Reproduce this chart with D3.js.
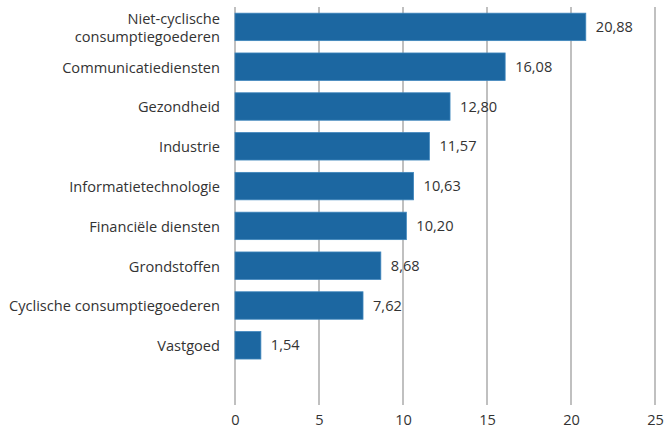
<!DOCTYPE html>
<html>
<head>
<meta charset="utf-8">
<script src="https://cdn.jsdelivr.net/npm/d3@7"></script>
<style>
  html, body { margin: 0; padding: 0; background: #fff; }
  svg { display: block; font-family: "Open Sans", "Noto Sans", sans-serif; }
</style>
</head>
<body>
<svg id="chart" width="665" height="433"></svg>
<script>
// Sectors (top to bottom) and their values
const categories = [
  ["Niet-cyclische", "consumptiegoederen"],
  ["Communicatiediensten"],
  ["Gezondheid"],
  ["Industrie"],
  ["Informatietechnologie"],
  ["Financiële diensten"],
  ["Grondstoffen"],
  ["Cyclische consumptiegoederen"],
  ["Vastgoed"]
];
const values = [20.88, 16.08, 12.80, 11.57, 10.63, 10.20, 8.68, 7.62, 1.54];
const xTicks = [0, 5, 10, 15, 20, 25];

const svg = d3.select("#chart");
const plotLeft = 235, plotRight = 655, plotTop = 7, step = 39.8;
const gridBottom = 405;
const fontSize = "14.6px";
const textColor = "#333";

const x = d3.scaleLinear().domain([0, 25]).range([plotLeft, plotRight]);
const keys = categories.map(c => c.join(" "));
const y = d3.scaleBand()
  .domain(keys)
  .range([plotTop, plotTop + step * keys.length])
  .paddingInner(0.31)
  .paddingOuter(0.155);

// vertical gridlines
svg.append("g")
  .selectAll("line")
  .data(xTicks)
  .join("line")
  .attr("x1", d => x(d)).attr("x2", d => x(d))
  .attr("y1", plotTop).attr("y2", gridBottom)
  .attr("stroke", "#ababab")
  .attr("stroke-width", 1.5);

// x axis tick labels
const xAxis = d3.axisBottom(x).tickValues(xTicks).tickSize(0).tickPadding(0);
const gx = svg.append("g")
  .attr("transform", `translate(0, ${gridBottom + 10})`)
  .call(xAxis);
gx.select(".domain").remove();
gx.selectAll("text")
  .attr("dy", "0.71em")
  .attr("fill", textColor)
  .style("font-size", fontSize)
  .style("font-family", "'Open Sans', sans-serif");

// bars
svg.append("g")
  .selectAll("rect")
  .data(values)
  .join("rect")
  .attr("x", x(0))
  .attr("y", (d, i) => y(keys[i]))
  .attr("width", d => x(d) - x(0))
  .attr("height", y.bandwidth())
  .attr("fill", "#1c67a1")
  .attr("stroke", "#3f86bd")
  .attr("stroke-width", 0.8);

// value labels
const fmt = d => d.toFixed(2).replace(".", ",");
svg.append("g")
  .selectAll("text")
  .data(values)
  .join("text")
  .attr("x", d => x(d) + 10)
  .attr("y", (d, i) => y(keys[i]) + y.bandwidth() / 2)
  .attr("dy", "0.35em")
  .attr("fill", textColor)
  .style("font-size", fontSize)
  .text(fmt);

// category labels (multi-line where needed)
const lab = svg.append("g")
  .selectAll("text")
  .data(categories)
  .join("text")
  .attr("x", 220)
  .attr("y", (d, i) => y(keys[i]) + y.bandwidth() / 2)
  .attr("text-anchor", "end")
  .attr("fill", textColor)
  .style("font-size", fontSize);
lab.each(function (lines) {
  const t = d3.select(this);
  const n = lines.length;
  lines.forEach((s, j) => {
    t.append("tspan")
      .attr("x", 220)
      .attr("dy", j === 0 ? `${0.4 - (n - 1) * 0.62}em` : "1.24em")
      .text(s);
  });
});
</script>
</body>
</html>
